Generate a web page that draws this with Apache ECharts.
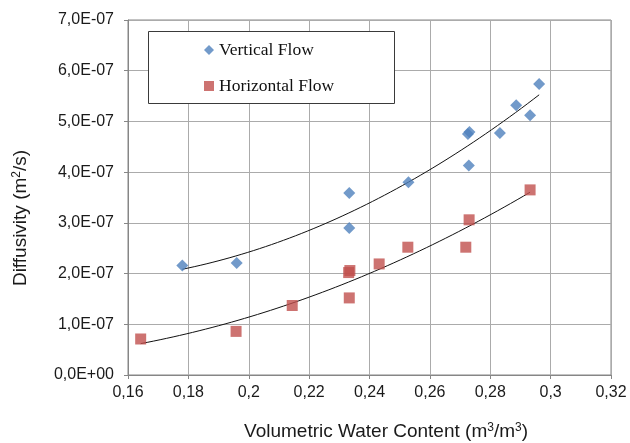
<!DOCTYPE html>
<html>
<head>
<meta charset="utf-8">
<script src="https://cdn.jsdelivr.net/npm/echarts@6/dist/echarts.min.js"></script>
<style>
  html, body { margin: 0; padding: 0; background: #fff; }
  #chart { width: 630px; height: 443px; }
</style>
</head>
<body>
<div id="chart"></div>
<script>
// Volumetric water content (m3/m3) and diffusivity (m2/s) measurements
const verticalX = [0.178, 0.196, 0.2333, 0.2333, 0.2529, 0.2726, 0.2731, 0.2729, 0.2832, 0.2886, 0.2932, 0.2962];
const verticalY = [2.16e-7, 2.21e-7, 3.59e-7, 2.90e-7, 3.80e-7, 4.75e-7, 4.79e-7, 4.13e-7, 4.77e-7, 5.32e-7, 5.12e-7, 5.74e-7];

const horizontalX = [0.1642, 0.1958, 0.2144, 0.2331, 0.2335, 0.2333, 0.2432, 0.2527, 0.2719, 0.2730, 0.2932];
const horizontalY = [0.71e-7, 0.86e-7, 1.37e-7, 2.02e-7, 2.06e-7, 1.52e-7, 2.19e-7, 2.52e-7, 2.52e-7, 3.06e-7, 3.65e-7];

// Axis tick labels
const xTickLabels = ['0,16', '0,18', '0,2', '0,22', '0,24', '0,26', '0,28', '0,3', '0,32'];
const yTickLabels = ['0,0E+00', '1,0E-07', '2,0E-07', '3,0E-07', '4,0E-07', '5,0E-07', '6,0E-07', '7,0E-07'];

const X_MIN = 0.16, X_MAX = 0.32, X_STEP = 0.02;
const Y_MIN = 0, Y_MAX = 7e-7, Y_STEP = 1e-7;

// Second-order polynomial least-squares trendline
function quadFit(xs, ys) {
  const n = xs.length;
  let s = [0, 0, 0, 0, 0], t = [0, 0, 0];
  for (let i = 0; i < n; i++) {
    const x = xs[i], y = ys[i];
    let p = 1;
    for (let k = 0; k <= 4; k++) { s[k] += p; if (k <= 2) t[k] += p * y; p *= x; }
  }
  const A = [[s[0], s[1], s[2], t[0]], [s[1], s[2], s[3], t[1]], [s[2], s[3], s[4], t[2]]];
  for (let c = 0; c < 3; c++) {
    let piv = c;
    for (let r = c + 1; r < 3; r++) if (Math.abs(A[r][c]) > Math.abs(A[piv][c])) piv = r;
    [A[c], A[piv]] = [A[piv], A[c]];
    for (let r = 0; r < 3; r++) {
      if (r === c) continue;
      const f = A[r][c] / A[c][c];
      for (let k = c; k < 4; k++) A[r][k] -= f * A[c][k];
    }
  }
  const coef = [A[0][3] / A[0][0], A[1][3] / A[1][1], A[2][3] / A[2][2]];
  const lo = Math.min(...xs), hi = Math.max(...xs), pts = [];
  for (let i = 0; i <= 60; i++) {
    const x = lo + (hi - lo) * i / 60;
    pts.push([x, coef[0] + coef[1] * x + coef[2] * x * x]);
  }
  return pts;
}

const zip = (xs, ys) => xs.map((x, i) => [x, ys[i]]);

const BLUE = '#4F81BD', RED = '#C0504D';
const SANS = '"Liberation Sans", Arial, sans-serif';
const SERIF = '"Liberation Serif", "Times New Roman", serif';
const TXT = '#1a1a1a';

const chart = echarts.init(document.getElementById('chart'), null, { renderer: 'canvas' });

chart.setOption({
  backgroundColor: '#fff',
  animation: false,
  grid: { left: 128, right: 19, top: 20, bottom: 68, show: true, borderColor: '#868686', borderWidth: 1 },
  xAxis: {
    type: 'value', min: X_MIN, max: X_MAX, interval: X_STEP,
    axisLine: { show: true, lineStyle: { color: '#868686' } },
    axisTick: { show: true, inside: false, length: 4, lineStyle: { color: '#868686' } },
    splitLine: { show: true, lineStyle: { color: '#ababab', width: 1 } },
    axisLabel: {
      margin: 10, color: TXT, fontFamily: SANS, fontSize: 16,
      formatter: v => xTickLabels[Math.round((v - X_MIN) / X_STEP)]
    }
  },
  yAxis: {
    type: 'value', min: Y_MIN, max: Y_MAX, interval: Y_STEP,
    axisLine: { show: true, lineStyle: { color: '#868686' } },
    axisTick: { show: true, inside: false, length: 4, lineStyle: { color: '#868686' } },
    splitLine: { show: true, lineStyle: { color: '#ababab', width: 1 } },
    axisLabel: {
      margin: 14, color: TXT, fontFamily: SANS, fontSize: 16,
      formatter: v => yTickLabels[Math.round((v - Y_MIN) / Y_STEP)]
    }
  },
  legend: {
    orient: 'vertical', left: 204, top: 40, padding: 0, itemGap: 16,
    itemWidth: 10, itemHeight: 10, z: 5,
    textStyle: { fontFamily: SERIF, fontSize: 17.5, color: '#111', lineHeight: 20 },
    data: [
      { name: 'Vertical Flow', icon: 'diamond' },
      { name: 'Horizontal Flow', icon: 'rect' }
    ]
  },
  graphic: [
    {
      type: 'rect', z: 4,
      shape: { x: 148.5, y: 31.5, width: 246, height: 72 },
      style: { fill: '#fff', stroke: '#3a3a3a', lineWidth: 1 }
    },
    {
      type: 'text', x: 386, y: 432, z: 5,
      style: {
        text: '{a|Volumetric Water Content (m}{s|3}{a|/m}{s|3}{a|)}',
        align: 'center', verticalAlign: 'middle',
        rich: {
          a: { fontFamily: SANS, fontSize: 19, fill: TXT, lineHeight: 22 },
          s: { fontFamily: SANS, fontSize: 12, fill: TXT, lineHeight: 22, padding: [0, 0, 9, 0] }
        }
      }
    },
    {
      type: 'text', x: 21, y: 218, z: 5, rotation: Math.PI / 2,
      style: {
        text: '{a|Diffusivity (m}{s|2}{a|/s)}',
        align: 'center', verticalAlign: 'middle',
        rich: {
          a: { fontFamily: SANS, fontSize: 19, fill: TXT, lineHeight: 22 },
          s: { fontFamily: SANS, fontSize: 12, fill: TXT, lineHeight: 22, padding: [0, 0, 9, 0] }
        }
      }
    }
  ],
  series: [
    {
      name: 'Vertical Flow', type: 'scatter', symbol: 'diamond', symbolSize: 12, z: 3,
      itemStyle: { color: BLUE }, data: zip(verticalX, verticalY)
    },
    {
      name: 'Horizontal Flow', type: 'scatter', symbol: 'rect', symbolSize: 11, z: 3,
      itemStyle: { color: RED }, data: zip(horizontalX, horizontalY)
    },
    {
      name: 'Vertical trend', type: 'line', showSymbol: false, symbol: 'none', smooth: false, z: 2,
      lineStyle: { color: '#111', width: 1 }, data: quadFit(verticalX, verticalY)
    },
    {
      name: 'Horizontal trend', type: 'line', showSymbol: false, symbol: 'none', smooth: false, z: 2,
      lineStyle: { color: '#111', width: 1 }, data: quadFit(horizontalX, horizontalY)
    }
  ]
});
</script>
</body>
</html>
